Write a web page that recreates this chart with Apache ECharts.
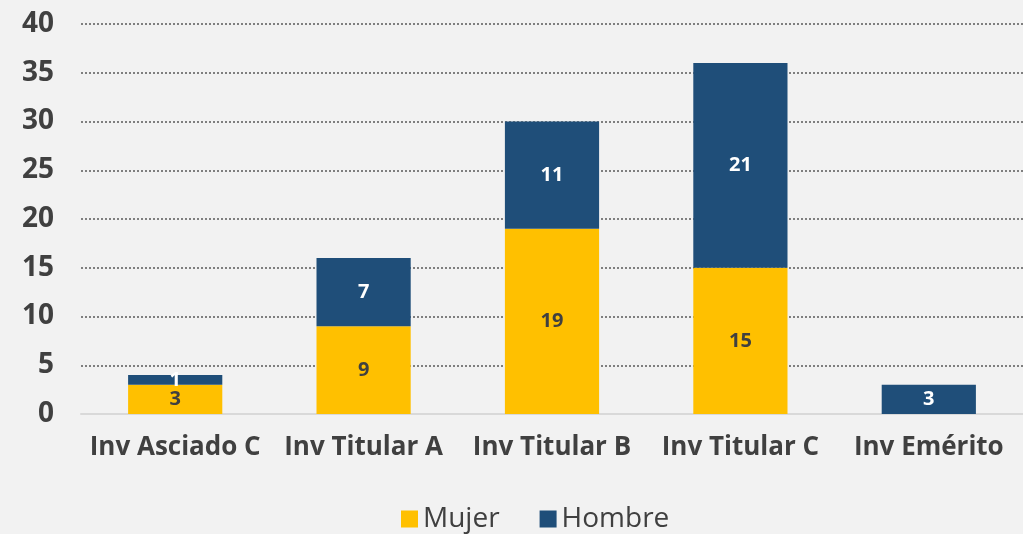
<!DOCTYPE html>
<html><head><meta charset="utf-8">
<script src="https://cdn.jsdelivr.net/npm/echarts@6/dist/echarts.min.js"></script>
<style>html,body{margin:0;padding:0;background:#f2f2f2;}#c{width:1023px;height:534px;}</style>
</head><body><div id="c"></div>
<script>
const categories = ["Inv Asciado C","Inv Titular A","Inv Titular B","Inv Titular C","Inv Emérito"];
const mujer = [3, 9, 19, 15, null];
const hombre = [1, 7, 11, 21, 3];
const yTicks = [0,5,10,15,20,25,30,35,40];

const chart = echarts.init(document.getElementById('c'));
chart.setOption({
  backgroundColor: '#f2f2f2',
  animation: false,
  textStyle: {fontFamily: 'Open Sans'},
  grid: {left: 81, right: -3, top: 24, bottom: 120, containLabel: false},
  legend: {
    bottom: -4, left: 396, itemWidth: 17, itemHeight: 17, itemGap: 40,
    icon: 'rect',
    textStyle: {fontSize: 28, color: '#404040', fontFamily: 'Open Sans'},
    data: ['Mujer','Hombre']
  },
  xAxis: {
    type: 'category', data: categories,
    axisLine: {lineStyle: {color: '#d9d9d9', width: 2}},
    axisTick: {show: false},
    axisLabel: {fontSize: 26, fontWeight: 'bold', color: '#404040', margin: 21, interval: 0}
  },
  yAxis: {
    type: 'value', min: yTicks[0], max: yTicks[yTicks.length-1], interval: 5,
    axisLine: {show: false}, axisTick: {show: false},
    axisLabel: {fontSize: 28, fontWeight: 'bold', color: '#404040', margin: 27},
    splitLine: {lineStyle: {color: '#595959', type: [2,2], width: 1.5}}
  },
  series: [
    {name: 'Mujer', type: 'bar', stack: 's', data: mujer, barWidth: '50%',
     itemStyle: {color: '#ffc000'},
     label: {show: true, position: 'inside', fontSize: 20, fontWeight: 'bold', color: '#404040'}},
    {name: 'Hombre', type: 'bar', stack: 's', data: hombre, barWidth: '50%',
     itemStyle: {color: '#1f4e79'},
     label: {show: true, position: 'inside', fontSize: 20, fontWeight: 'bold', color: '#ffffff'}}
  ]
});
</script></body></html>
